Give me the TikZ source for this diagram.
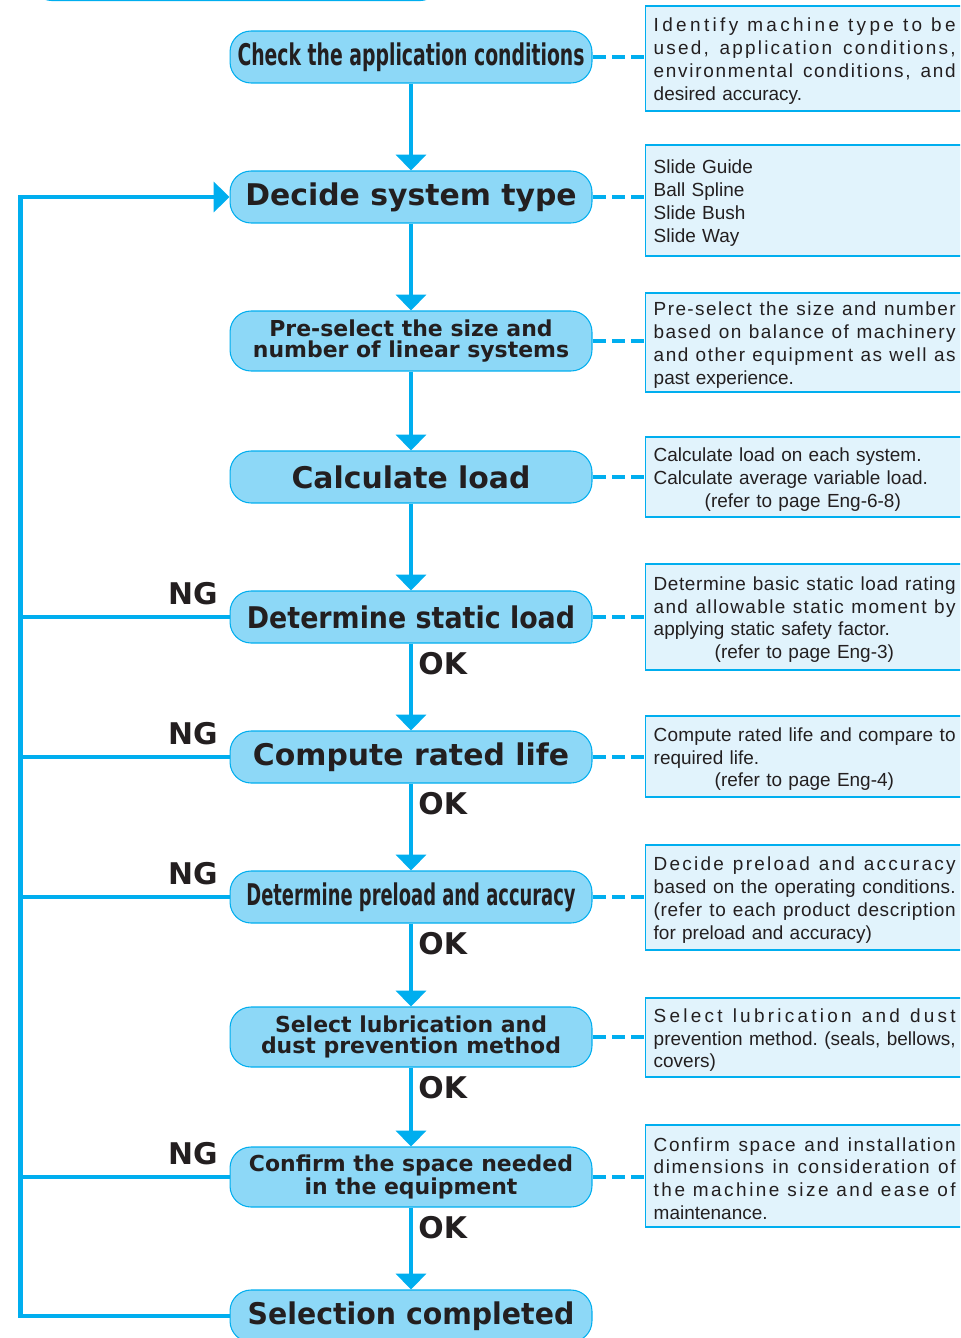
\documentclass[tikz,border=0pt]{standalone}
\usepackage{fontspec}
\setmainfont{Liberation Sans}
\newfontfamily\titlefont{DejaVu Sans}
\usepackage{tikz}
\usetikzlibrary{arrows.meta,positioning}
\setlength{\parindent}{0pt}
\definecolor{flowblue}{HTML}{00AEEF}
\definecolor{boxblue}{HTML}{8DD8F7}
\definecolor{notebg}{HTML}{E1F3FC}
\definecolor{ink}{HTML}{231F20}
% justified note line, spread by letter spacing and word spaces
\newsavebox\fullA
\newsavebox\fullB
\newcommand{\full}[1]{%
  \sbox\fullA{#1}%
  \sbox\fullB{\addfontfeature{LetterSpace=10}#1}%
  {\addfontfeature{LetterSpace=\fpeval{round(8.5*(\number\dimexpr6.04cm-\wd\fullA\relax)/(\number\dimexpr\wd\fullB-\wd\fullA\relax),3)}}%
   \spaceskip=0.28em plus 1fil\xspaceskip=\spaceskip\makebox[6.04cm][s]{#1}}}
\tikzset{
  mainbox/.style={draw=flowblue, line width=0.6pt, fill=boxblue, rounded corners=0.42cm,
    minimum width=7.24cm, minimum height=1.04cm, inner sep=0pt, align=center, text=ink,
    font=\titlefont\bfseries\fontsize{17}{20}\selectfont},
  twoline/.style={minimum height=1.2cm, font=\titlefont\bfseries\fontsize{12.5}{12}\selectfont},
  notebox/.style={draw=flowblue, line width=0.8pt, fill=notebg, anchor=west, text width=6.04cm,
    inner xsep=0.16cm, inner ysep=0pt, align=left, text=ink, font=\fontsize{10.8}{13}\selectfont\frenchspacing,
    execute at begin node={\rule{0pt}{10.8pt}}},
  flow/.style={draw=flowblue, line width=2.7pt, -{Triangle[length=9pt,width=17pt]}},
  wire/.style={draw=flowblue, line width=2.7pt},
  dashlink/.style={draw=flowblue, line width=2.5pt, dash pattern=on 7.4pt off 3.6pt},
  tag/.style={inner sep=0pt, text=ink, font=\titlefont\bfseries\fontsize{17}{20}\selectfont}
}
\begin{document}
\begin{tikzpicture}[x=0.02cm,y=-0.02cm]
	\useasboundingbox (0,0) rectangle (960,1338);
	\clip (0,0) rectangle (960,1338);
	\draw[flowblue, line width=1.2pt, rounded corners=0.4cm] (32,-60) rectangle (440,0); %box above
	% steps
	\node[mainbox] (check) at (411,57) {\scalebox{0.63}[1]{Check the application conditions}};
	\node[mainbox] (system) at (411,197) {Decide system type};
	\node[mainbox,twoline] (presel) at (411,341) {Pre-select the size and\\number of linear systems};
	\node[mainbox] (load) at (411,477) {Calculate load};
	\node[mainbox] (static) at (411,617) {\scalebox{0.9}[1]{Determine static load}};
	\node[mainbox] (life) at (411,757) {Compute rated life};
	\node[mainbox] (preload) at (411,897) {\scalebox{0.6}[1]{Determine preload and accuracy}};
	\node[mainbox,twoline] (lube) at (411,1037) {Select lubrication and\\dust prevention method};
	\node[mainbox,twoline] (space) at (411,1177) {Confirm the space needed\\in the equipment};
	\node[mainbox] (done) at (411,1316) {\scalebox{0.95}[1]{Selection completed}};
	% notes
	\node[notebox, minimum height=2.1cm] (n-check) at (645,58.5) {\full{Identify machine type to be}\\\full{used, application conditions,}\\\full{environmental conditions, and}\\desired accuracy.};
	\node[notebox, minimum height=2.22cm] (n-system) at (645,200.5) {Slide Guide\\Ball Spline\\Slide Bush\\Slide Way};
	\node[notebox, minimum height=1.98cm] (n-presel) at (645,342.5) {\full{Pre-select the size and number}\\\full{based on balance of machinery}\\\full{and other equipment as well as}\\past experience.};
	\node[notebox, minimum height=1.6cm] (n-load) at (645,477) {Calculate load on each system.\\Calculate average variable load.\\\hspace*{1.02cm}(refer to page Eng-6-8)};
	\node[notebox, minimum height=2.12cm] (n-static) at (645,617) {\full{Determine basic static load rating}\\\full{and allowable static moment by}\\applying static safety factor.\\\hspace*{1.22cm}(refer to page Eng-3)};
	\node[notebox, minimum height=1.62cm] (n-life) at (645,756.5) {\full{Compute rated life and compare to}\\required life.\\\hspace*{1.22cm}(refer to page Eng-4)};
	\node[notebox, minimum height=2.1cm] (n-preload) at (645,897.5) {\full{Decide preload and accuracy}\\\full{based on the operating conditions.}\\\full{(refer to each product description}\\for preload and accuracy)};
	\node[notebox, minimum height=1.58cm] (n-lube) at (645,1037.5) {\full{Select lubrication and dust}\\\full{prevention method. (seals, bellows,}\\covers)};
	\node[notebox, minimum height=2.04cm] (n-space) at (645,1176) {\full{Confirm space and installation}\\\full{dimensions in consideration of}\\\full{the machine size and ease of}\\maintenance.};
	% main flow
	\draw[flow] (check) -- (system);
	\draw[flow] (system) -- (presel);
	\draw[flow] (presel) -- (load);
	\draw[flow] (load) -- (static);
	\draw[flow] (static) -- (life);
	\draw[flow] (life) -- (preload);
	\draw[flow] (preload) -- (lube);
	\draw[flow] (lube) -- (space);
	\draw[flow] (space) -- (done);
	% dashed links to notes
	\draw[dashlink] (check.east) -- (check.east -| n-check.west);
	\draw[dashlink] (system.east) -- (system.east -| n-system.west);
	\draw[dashlink] (presel.east) -- (presel.east -| n-presel.west);
	\draw[dashlink] (load.east) -- (load.east -| n-load.west);
	\draw[dashlink] (static.east) -- (static.east -| n-static.west);
	\draw[dashlink] (life.east) -- (life.east -| n-life.west);
	\draw[dashlink] (preload.east) -- (preload.east -| n-preload.west);
	\draw[dashlink] (lube.east) -- (lube.east -| n-lube.west);
	\draw[dashlink] (space.east) -- (space.east -| n-space.west);
	% NG loop back
	\coordinate (back) at (20.5,1316);
	\draw[flow] (done.west) -- (back) |- (system.west);
	\draw[wire] (static.west) -- (static.west -| back);
	\draw[wire] (life.west) -- (life.west -| back);
	\draw[wire] (preload.west) -- (preload.west -| back);
	\draw[wire] (space.west) -- (space.west -| back);
	\node[tag, above left=6.8pt and 6.5pt of static.west] (ng-static) {NG};
	\node[tag, above left=6.8pt and 6.5pt of life.west] (ng-life) {NG};
	\node[tag, above left=6.8pt and 6.5pt of preload.west] (ng-preload) {NG};
	\node[tag, above left=6.8pt and 6.5pt of space.west] (ng-space) {NG};
	% OK labels
	\node[tag, below right=5pt and 4pt of static.south] (ok-static) {OK};
	\node[tag, below right=5pt and 4pt of life.south] (ok-life) {OK};
	\node[tag, below right=5pt and 4pt of preload.south] (ok-preload) {OK};
	\node[tag, below right=5pt and 4pt of lube.south] (ok-lube) {OK};
	\node[tag, below right=5pt and 4pt of space.south] (ok-space) {OK};
\end{tikzpicture}
\end{document}
